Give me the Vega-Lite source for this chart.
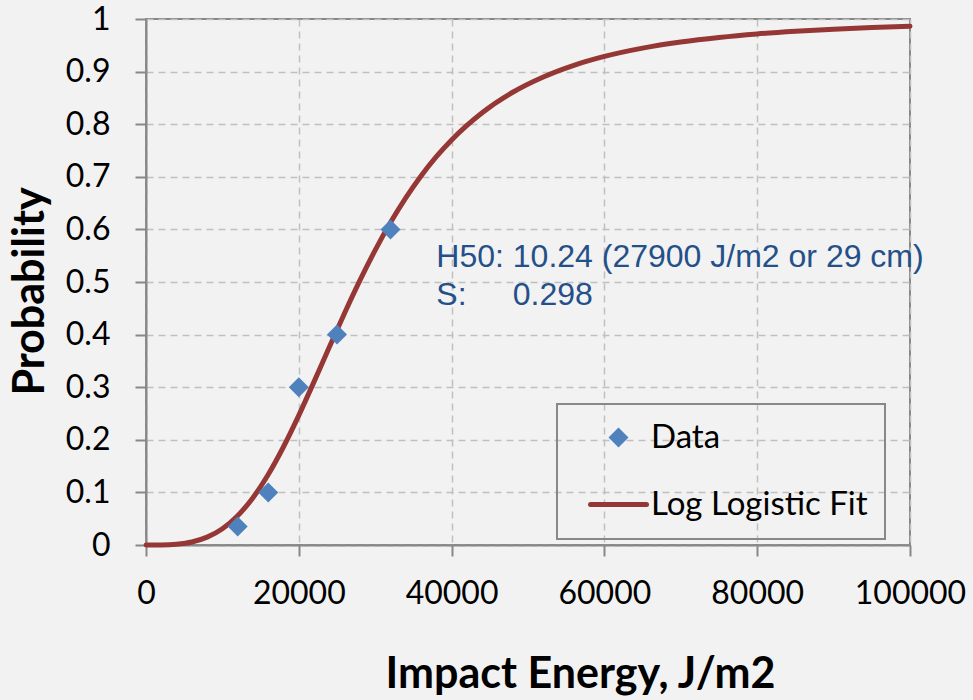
{
  "$schema": "https://vega.github.io/schema/vega-lite/v6.json",
  "width": 764,
  "height": 526,
  "autosize": {"type": "none"},
  "padding": {"left": 146, "top": 19, "right": 63, "bottom": 155},
  "background": "#f2f2f2",
  "datasets": {
    "points": [
      {"E": 12000, "P": 0.035, "series": "Data"},
      {"E": 16000, "P": 0.1, "series": "Data"},
      {"E": 20000, "P": 0.3, "series": "Data"},
      {"E": 25000, "P": 0.4, "series": "Data"},
      {"E": 32000, "P": 0.6, "series": "Data"}
    ],
    "fit": [
      {"E": 0, "P": 0, "series": "Log Logistic Fit"},
      {"E": 2000, "P": 0.0001, "series": "Log Logistic Fit"},
      {"E": 4000, "P": 0.0015, "series": "Log Logistic Fit"},
      {"E": 6000, "P": 0.0057, "series": "Log Logistic Fit"},
      {"E": 8000, "P": 0.0149, "series": "Log Logistic Fit"},
      {"E": 10000, "P": 0.031, "series": "Log Logistic Fit"},
      {"E": 12000, "P": 0.0557, "series": "Log Logistic Fit"},
      {"E": 14000, "P": 0.0899, "series": "Log Logistic Fit"},
      {"E": 16000, "P": 0.134, "series": "Log Logistic Fit"},
      {"E": 18000, "P": 0.1868, "series": "Log Logistic Fit"},
      {"E": 20000, "P": 0.2465, "series": "Log Logistic Fit"},
      {"E": 22000, "P": 0.3106, "series": "Log Logistic Fit"},
      {"E": 24000, "P": 0.3763, "series": "Log Logistic Fit"},
      {"E": 26000, "P": 0.4411, "series": "Log Logistic Fit"},
      {"E": 28000, "P": 0.503, "series": "Log Logistic Fit"},
      {"E": 30000, "P": 0.5606, "series": "Log Logistic Fit"},
      {"E": 32000, "P": 0.6131, "series": "Log Logistic Fit"},
      {"E": 34000, "P": 0.66, "series": "Log Logistic Fit"},
      {"E": 36000, "P": 0.7016, "series": "Log Logistic Fit"},
      {"E": 38000, "P": 0.7382, "series": "Log Logistic Fit"},
      {"E": 40000, "P": 0.7701, "series": "Log Logistic Fit"},
      {"E": 44000, "P": 0.8218, "series": "Log Logistic Fit"},
      {"E": 48000, "P": 0.8607, "series": "Log Logistic Fit"},
      {"E": 52000, "P": 0.8898, "series": "Log Logistic Fit"},
      {"E": 56000, "P": 0.912, "series": "Log Logistic Fit"},
      {"E": 60000, "P": 0.9289, "series": "Log Logistic Fit"},
      {"E": 65000, "P": 0.9447, "series": "Log Logistic Fit"},
      {"E": 70000, "P": 0.9563, "series": "Log Logistic Fit"},
      {"E": 75000, "P": 0.965, "series": "Log Logistic Fit"},
      {"E": 80000, "P": 0.9717, "series": "Log Logistic Fit"},
      {"E": 85000, "P": 0.9768, "series": "Log Logistic Fit"},
      {"E": 90000, "P": 0.9807, "series": "Log Logistic Fit"},
      {"E": 95000, "P": 0.9839, "series": "Log Logistic Fit"},
      {"E": 100000, "P": 0.9864, "series": "Log Logistic Fit"}
    ],
    "notes": [
      {"E": 38000, "P": 0.5285, "label": "H50: 10.24 (27900 J/m2 or  29 cm)"},
      {"E": 38000, "P": 0.4563, "label": "S:"},
      {"E": 48000, "P": 0.4563, "label": "0.298"}
    ]
  },
  "config": {
    "view": {"stroke": "#888888", "strokeWidth": 2},
    "axis": {
      "labelFont": "Lato",
      "labelFontSize": 32,
      "labelColor": "#000000",
      "titleFont": "Lato",
      "titleFontSize": 43,
      "titleFontWeight": "bold",
      "titleColor": "#000000",
      "domainColor": "#888888",
      "domainWidth": 2,
      "tickColor": "#888888",
      "tickWidth": 2,
      "tickSize": 11,
      "gridColor": "#c0c0c0",
      "gridWidth": 1.5,
      "gridDash": [7, 5]
    }
  },
  "layer": [
    {
      "data": {"name": "fit"},
      "mark": {"type": "line", "strokeWidth": 5, "interpolate": "monotone", "strokeCap": "round"},
      "encoding": {
        "x": {
          "field": "E", "type": "quantitative",
          "scale": {"domain": [0, 100000], "nice": false},
          "axis": {
            "values": [0, 20000, 40000, 60000, 80000, 100000],
            "format": "d",
            "title": "Impact Energy, J/m2",
            "labelPadding": 22,
            "titleX": 434,
            "titleY": 142,
            "titleAlign": "center",
            "titleBaseline": "alphabetic",
            "labelFlush": false
          }
        },
        "y": {
          "field": "P", "type": "quantitative",
          "scale": {"domain": [0, 1], "nice": false},
          "axis": {
            "values": [0, 0.1, 0.2, 0.3, 0.4, 0.5, 0.6, 0.7, 0.8, 0.9, 1],
            "format": "~g",
            "title": "Probability",
            "labelPadding": 25,
            "titleX": -103,
            "titleY": 272,
            "titleAlign": "center",
            "titleBaseline": "alphabetic",
            "titleAngle": -90,
            "labelFlush": false
          }
        },
        "color": {
          "field": "series", "type": "nominal",
          "scale": {"domain": ["Data", "Log Logistic Fit"], "range": ["#4f81bd", "#953735"]},
          "legend": {
            "title": null,
            "orient": "none",
            "legendX": 411,
            "legendY": 385,
            "padding": 17,
            "rowPadding": 33,
            "strokeColor": "#888888",
            "labelFont": "Lato",
            "labelFontSize": 33,
            "labelLimit": 0,
            "labelColor": "#000000",
            "labelOffset": 16,
            "symbolOffset": 28,
            "symbolSize": 3136,
            "symbolStrokeWidth": 5,
            "symbolType": "stroke",
            "encode": {
              "legend": {
                "update": {"strokeWidth": {"value": 2}}
              },
              "symbols": {
                "update": {
                  "shape": {"signal": "datum.value === 'Data' ? 'diamond' : 'stroke'"},
                  "size": {"signal": "datum.value === 'Data' ? 400 : 3136"},
                  "strokeWidth": {"signal": "datum.value === 'Data' ? 0 : 5"},
                  "fill": {"signal": "datum.value === 'Data' ? '#4f81bd' : 'transparent'"},
                  "stroke": {"signal": "datum.value === 'Data' ? '#4f81bd' : '#953735'"},
                  "strokeCap": {"value": "round"},
                  "opacity": {"value": 1}
                }
              }
            }
          }
        }
      }
    },
    {
      "data": {"name": "points"},
      "mark": {"type": "point", "shape": "diamond", "filled": true, "size": 400, "opacity": 1},
      "encoding": {
        "x": {"field": "E", "type": "quantitative"},
        "y": {"field": "P", "type": "quantitative"},
        "color": {"field": "series", "type": "nominal"}
      }
    },
    {
      "data": {"name": "notes"},
      "mark": {"type": "text", "align": "left", "baseline": "alphabetic", "font": "Liberation Sans", "fontSize": 32, "color": "#24508a"},
      "encoding": {
        "x": {"field": "E", "type": "quantitative"},
        "y": {"field": "P", "type": "quantitative"},
        "text": {"field": "label"}
      }
    }
  ]
}
